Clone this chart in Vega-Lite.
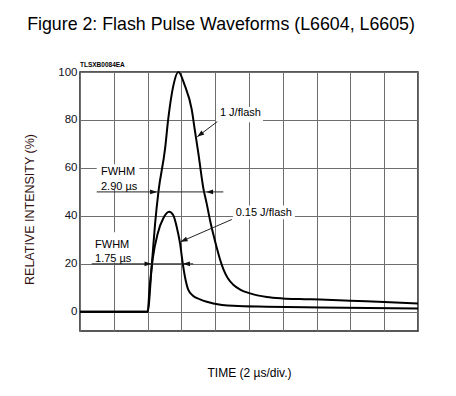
{
  "$schema": "https://vega.github.io/schema/vega-lite/v6.json",
  "width": 338,
  "height": 259,
  "autosize": {"type": "none"},
  "padding": {"left": 80, "top": 72, "right": 38, "bottom": 65},
  "background": "white",
  "title": {
    "text": "Figure 2: Flash Pulse Waveforms (L6604, L6605)",
    "font": "Liberation Sans",
    "fontSize": 17.8,
    "fontWeight": "normal",
    "color": "#000000",
    "anchor": "middle",
    "dx": -28,
    "offset": 28
  },
  "config": {
    "view": {"stroke": "#222222", "strokeWidth": 1.5},
    "axis": {
      "grid": true,
      "gridColor": "#6e6e6e",
      "gridWidth": 1,
      "gridOpacity": 1,
      "domain": false,
      "ticks": false,
      "labelFont": "Liberation Sans",
      "labelFontSize": 11.5,
      "labelColor": "#111122",
      "titleFont": "Liberation Sans",
      "titleFontSize": 12,
      "titleFontWeight": "normal"
    }
  },
  "datasets": {
    "curves": [
      {"series": "1 J", "t": 0, "v": 0},
      {"series": "1 J", "t": 4.0, "v": 0},
      {"series": "1 J", "t": 4.24, "v": 18.8},
      {"series": "1 J", "t": 4.44, "v": 36.5},
      {"series": "1 J", "t": 4.64, "v": 50},
      {"series": "1 J", "t": 5.03, "v": 67.8},
      {"series": "1 J", "t": 5.22, "v": 80.3},
      {"series": "1 J", "t": 5.52, "v": 94.2},
      {"series": "1 J", "t": 5.82, "v": 100},
      {"series": "1 J", "t": 6.21, "v": 94.2},
      {"series": "1 J", "t": 6.61, "v": 84.4},
      {"series": "1 J", "t": 6.8, "v": 75.5},
      {"series": "1 J", "t": 7.0, "v": 66.3},
      {"series": "1 J", "t": 7.3, "v": 51.5},
      {"series": "1 J", "t": 7.5, "v": 45},
      {"series": "1 J", "t": 7.7, "v": 38},
      {"series": "1 J", "t": 7.9, "v": 32},
      {"series": "1 J", "t": 8.1, "v": 26.5},
      {"series": "1 J", "t": 8.3, "v": 21.5},
      {"series": "1 J", "t": 8.5, "v": 17.5},
      {"series": "1 J", "t": 8.75, "v": 14},
      {"series": "1 J", "t": 9.07, "v": 11.3},
      {"series": "1 J", "t": 9.5, "v": 9.2},
      {"series": "1 J", "t": 10.06, "v": 7.7},
      {"series": "1 J", "t": 11.05, "v": 6.2},
      {"series": "1 J", "t": 12.0, "v": 5.6},
      {"series": "1 J", "t": 13.0, "v": 5.3},
      {"series": "1 J", "t": 14.2, "v": 5.1},
      {"series": "1 J", "t": 16.0, "v": 4.6},
      {"series": "1 J", "t": 18.0, "v": 4.1},
      {"series": "1 J", "t": 20.0, "v": 3.5},
      {"series": "0.15 J", "t": 0, "v": 0},
      {"series": "0.15 J", "t": 4.0, "v": 0},
      {"series": "0.15 J", "t": 4.12, "v": 10},
      {"series": "0.15 J", "t": 4.3, "v": 22},
      {"series": "0.15 J", "t": 4.6, "v": 32.7},
      {"series": "0.15 J", "t": 4.93, "v": 39.0},
      {"series": "0.15 J", "t": 5.28, "v": 41.7},
      {"series": "0.15 J", "t": 5.52, "v": 40.3},
      {"series": "0.15 J", "t": 5.72, "v": 35.5},
      {"series": "0.15 J", "t": 5.92, "v": 28.5},
      {"series": "0.15 J", "t": 6.08, "v": 20.2},
      {"series": "0.15 J", "t": 6.21, "v": 14.6},
      {"series": "0.15 J", "t": 6.41, "v": 9.1},
      {"series": "0.15 J", "t": 6.7, "v": 6.6},
      {"series": "0.15 J", "t": 7.1, "v": 5.2},
      {"series": "0.15 J", "t": 7.5, "v": 4.2},
      {"series": "0.15 J", "t": 7.89, "v": 3.5},
      {"series": "0.15 J", "t": 9.07, "v": 2.5},
      {"series": "0.15 J", "t": 11.05, "v": 2.1},
      {"series": "0.15 J", "t": 14.2, "v": 1.8},
      {"series": "0.15 J", "t": 20.0, "v": 1.4}
    ],
    "boxes": [
      {"t": 0.99, "t2": 3.51, "v": 51, "v2": 61.5},
      {"t": 0.71, "t2": 3.08, "v": 20.6, "v2": 33.2},
      {"t": 8.05, "t2": 10.83, "v": 79, "v2": 85.4},
      {"t": 9.05, "t2": 12.72, "v": 38.6, "v2": 44.3}
    ],
    "rules": [
      {"t": 0.99, "v": 50, "t2": 8.48, "v2": 50},
      {"t": 0.69, "v": 20, "t2": 6.7, "v2": 20},
      {"t": 8.12, "v": 79.3, "t2": 6.94, "v2": 73.0},
      {"t": 8.98, "v": 38.5, "t2": 5.95, "v2": 29.2}
    ],
    "arrows": [
      {"t": 4.56, "v": 50, "dir": 0},
      {"t": 7.46, "v": 50, "dir": 180},
      {"t": 4.23, "v": 20, "dir": 0},
      {"t": 6.09, "v": 20, "dir": 180},
      {"t": 6.94, "v": 73.0, "dir": 143},
      {"t": 5.95, "v": 29.2, "dir": 157}
    ],
    "labels": [
      {"t": 1.24, "v": 58.2, "label": "FWHM"},
      {"t": 1.24, "v": 52.1, "label": "2.90 µs"},
      {"t": 0.89, "v": 27.8, "label": "FWHM"},
      {"t": 0.89, "v": 21.9, "label": "1.75 µs"},
      {"t": 8.28, "v": 82.8, "label": "1 J/flash"},
      {"t": 9.21, "v": 41.4, "label": "0.15 J/flash"}
    ],
    "code": [
      {"t": 0, "v": 102.9, "label": "TLSXB0084EA"}
    ]
  },
  "encoding": {
    "x": {"field": "t", "type": "quantitative", "scale": {"domain": [0, 20], "nice": false}, "axis": {"values": [0, 2, 4, 6, 8, 10, 12, 14, 16, 18, 20], "labels": false, "title": "TIME (2 µs/div.)", "titleColor": "#000000", "titleY": 36, "titleFontSize": 12}},
    "y": {"field": "v", "type": "quantitative", "scale": {"domain": [-8, 100], "nice": false, "zero": false}, "axis": {"values": [0, 20, 40, 60, 80, 100], "labelPadding": 3, "title": "RELATIVE INTENSITY (%)", "titleColor": "#331111", "titleX": -44, "titleY": 137, "titleFontSize": 12.5}}
  },
  "layer": [
    {
      "data": {"name": "boxes"},
      "mark": {"type": "rect", "color": "white"},
      "encoding": {
        "x2": {"field": "t2"},
        "y2": {"field": "v2"}
      }
    },
    {
      "data": {"name": "curves"},
      "mark": {"type": "line", "color": "black", "strokeWidth": 2, "interpolate": "monotone"},
      "encoding": {
        "detail": {"field": "series"}
      }
    },
    {
      "data": {"name": "rules"},
      "mark": {"type": "rule", "color": "#222222", "strokeWidth": 1},
      "encoding": {
        "x2": {"field": "t2"},
        "y2": {"field": "v2"}
      }
    },
    {
      "data": {"name": "arrows"},
      "mark": {"type": "point", "shape": "M0,0L-2,-0.7L-2,0.7Z", "filled": true, "color": "#111111", "size": 49, "opacity": 1},
      "encoding": {
        "angle": {"field": "dir", "type": "quantitative", "scale": null}
      }
    },
    {
      "data": {"name": "labels"},
      "mark": {"type": "text", "align": "left", "baseline": "middle", "font": "Liberation Sans", "fontSize": 11, "color": "#000000"},
      "encoding": {
        "text": {"field": "label"}
      }
    },
    {
      "data": {"name": "code"},
      "mark": {"type": "text", "align": "left", "baseline": "middle", "font": "Liberation Sans", "fontSize": 6.5, "fontWeight": "bold", "color": "#000000", "clip": false},
      "encoding": {
        "text": {"field": "label"}
      }
    }
  ]
}
